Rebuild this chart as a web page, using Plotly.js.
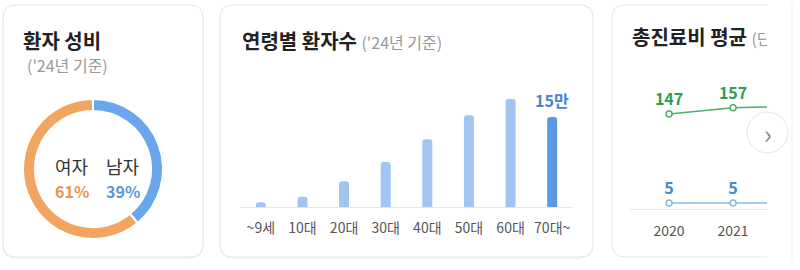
<!DOCTYPE html>
<html>
<head>
<meta charset="utf-8">
<script src="https://cdn.plot.ly/plotly-3.0.1.min.js"></script>
<style>
html,body{margin:0;padding:0;background:#fff;}
#chart{width:800px;height:270px;}
</style>
</head>
<body>
<div id="chart"></div>
<script>
// ---- data ----
const genderLabels = ['남자', '여자'];
const genderShares = [39, 61];

const ageGroups = ['~9세', '10대', '20대', '30대', '40대', '50대', '60대', '70대~'];
const agePatients = [0.8, 1.7, 4.3, 7.5, 11.3, 15.3, 18.0, 15.0]; // 만 명
const highlightIndex = 7;

const years = [2020, 2021, 2022];
const totalCost = [147, 157, 159];
const visitCost = [5, 5, 5];
const lastVisibleYear = 2021;

// ---- helpers (pixel -> paper) ----
const W = 800, H = 270;
const px = x => x / W;
const py = y => 1 - y / H;
const FONT = '"Noto Sans CJK KR", "Noto Sans", sans-serif';

function rr(x0, y0, x1, y1, r) {
  return `M ${px(x0 + r)},${py(y0)} L ${px(x1 - r)},${py(y0)} Q ${px(x1)},${py(y0)} ${px(x1)},${py(y0 + r)} ` +
    `L ${px(x1)},${py(y1 - r)} Q ${px(x1)},${py(y1)} ${px(x1 - r)},${py(y1)} ` +
    `L ${px(x0 + r)},${py(y1)} Q ${px(x0)},${py(y1)} ${px(x0)},${py(y1 - r)} ` +
    `L ${px(x0)},${py(y0 + r)} Q ${px(x0)},${py(y0)} ${px(x0 + r)},${py(y0)} Z`;
}
function openCard(x0, y0, x1, y1, r) {
  return `M ${px(x1)},${py(y0)} L ${px(x0 + r)},${py(y0)} Q ${px(x0)},${py(y0)} ${px(x0)},${py(y0 + r)} ` +
    `L ${px(x0)},${py(y1 - r)} Q ${px(x0)},${py(y1)} ${px(x0 + r)},${py(y1)} L ${px(x1)},${py(y1)}`;
}

const BLUE = '#69A6EC', ORANGE = '#F2A560';
const femaleIdx = genderLabels.indexOf('여자'), maleIdx = genderLabels.indexOf('남자');
const pointLabels = arr => arr.map((v, i) => years[i] <= lastVisibleYear ? String(v) : '');

const traces = [
  {
    type: 'pie',
    values: genderShares,
    labels: genderLabels,
    sort: false,
    direction: 'clockwise',
    rotation: 0,
    hole: 0.83,
    textinfo: 'none',
    marker: { colors: [BLUE, ORANGE], line: { color: '#fff', width: 2 } },
    domain: { x: [px(23), px(163)], y: [py(239), py(99)] },
    showlegend: false
  },
  {
    type: 'bar',
    x: ageGroups,
    y: agePatients,
    xaxis: 'x', yaxis: 'y',
    marker: {
      color: ageGroups.map((_, i) => i === highlightIndex ? '#5A99E6' : '#A2C4F0'),
      cornerradius: 3
    },
    showlegend: false
  },
  {
    type: 'scatter',
    mode: 'lines+markers+text',
    x: years, y: totalCost,
    xaxis: 'x2', yaxis: 'y2',
    text: pointLabels(totalCost),
    textposition: 'top center',
    textfont: { family: FONT, size: 16, color: '#2E9C55', weight: 700 },
    line: { color: '#4DAE6E', width: 1.5 },
    marker: { symbol: 'circle', size: 6, color: '#fff', line: { color: '#4DAE6E', width: 1.5 } },
    cliponaxis: true,
    showlegend: false
  },
  {
    type: 'scatter',
    mode: 'lines+markers+text',
    x: years, y: visitCost,
    xaxis: 'x2', yaxis: 'y2',
    text: pointLabels(visitCost),
    textposition: 'top center',
    textfont: { family: FONT, size: 16, color: '#3A8DCB', weight: 700 },
    line: { color: '#82BEDF', width: 1.5 },
    marker: { symbol: 'circle', size: 6, color: '#fff', line: { color: '#82BEDF', width: 1.5 } },
    cliponaxis: true,
    showlegend: false
  },
  {
    type: 'scatter',
    mode: 'text',
    x: [0], y: [0],
    xaxis: 'x3', yaxis: 'y3',
    text: ['<b>총진료비 평균</b> <span style="font-size:16px;color:#999">(단위: 만원)</span>'],
    textposition: 'middle right',
    textfont: { family: FONT, size: 20, color: '#222' },
    cliponaxis: true,
    showlegend: false
  }
];

const shapes = [
  { type: 'path', xref: 'paper', yref: 'paper', path: rr(3, 6, 203, 258, 13), line: { color: '#EDEEF0', width: 1 }, layer: 'below' },
  { type: 'path', xref: 'paper', yref: 'paper', path: rr(3, 5, 203, 257, 13), fillcolor: '#fff', line: { color: '#E4E6E9', width: 1 }, layer: 'below' },
  { type: 'path', xref: 'paper', yref: 'paper', path: rr(220, 6, 593, 258, 13), line: { color: '#EDEEF0', width: 1 }, layer: 'below' },
  { type: 'path', xref: 'paper', yref: 'paper', path: rr(220, 5, 593, 257, 13), fillcolor: '#fff', line: { color: '#E4E6E9', width: 1 }, layer: 'below' },
  { type: 'path', xref: 'paper', yref: 'paper', path: openCard(612, 5, 767, 257, 13), line: { color: '#E4E6E9', width: 1 }, layer: 'below' },
  { type: 'line', xref: 'paper', yref: 'paper', x0: px(792), x1: px(792), y0: py(4), y1: py(262), line: { color: '#EFEFEF', width: 1 }, layer: 'below' },
  { type: 'circle', xref: 'paper', yref: 'paper', x0: px(747), x1: px(788), y0: py(153), y1: py(112), fillcolor: '#fff', line: { color: '#E6E6E6', width: 1 }, layer: 'above' }
];

const ann = (x, y, text, size, color, extra) => Object.assign({
  xref: 'paper', yref: 'paper', x: px(x), y: py(y), text: text, showarrow: false,
  xanchor: 'left', yanchor: 'middle', font: { family: FONT, size: size, color: color }
}, extra || {});

const annotations = [
  ann(21, 40, '<b>환자 성비</b>', 20, '#222'),
  ann(25, 65, "('24년 기준)", 16, '#999'),
  ann(72, 166, genderLabels[femaleIdx], 18, '#333', { xanchor: 'center' }),
  ann(123, 166, genderLabels[maleIdx], 18, '#333', { xanchor: 'center' }),
  ann(72, 191, '<b>' + genderShares[femaleIdx] + '%</b>', 16, '#E9964D', { xanchor: 'center' }),
  ann(123, 191, '<b>' + genderShares[maleIdx] + '%</b>', 16, '#5B95DB', { xanchor: 'center' }),
  ann(240, 40, '<b>연령별 환자수</b> <span style="font-size:16px;color:#999">(\'24년 기준)</span>', 20, '#222'),
  {
    xref: 'x', yref: 'y', x: ageGroups[highlightIndex], y: agePatients[highlightIndex],
    text: '<b>' + agePatients[highlightIndex] + '만</b>', showarrow: false,
    yanchor: 'bottom', yshift: 3,
    font: { family: FONT, size: 16, color: '#4A84D0' }
  },
  ann(768, 132, '›', 26, '#888', { xanchor: 'center' })
];

const layout = {
  width: 800, height: 270,
  margin: { l: 0, r: 0, t: 0, b: 0 },
  paper_bgcolor: '#fff', plot_bgcolor: 'rgba(0,0,0,0)',
  font: { family: FONT },
  bargap: 0.76,
  xaxis: {
    domain: [px(240), px(573)],
    type: 'category',
    showline: true, linecolor: '#E3E8EE', linewidth: 1,
    showgrid: false, zeroline: false,
    ticks: 'outside', ticklen: 8, tickcolor: 'rgba(0,0,0,0)',
    tickfont: { family: FONT, size: 14, color: '#555' },
    fixedrange: true
  },
  yaxis: {
    domain: [py(207), py(87)],
    range: [0, 20],
    visible: false, fixedrange: true
  },
  xaxis2: {
    domain: [px(630), px(767)],
    range: [2019.39, 2021.53],
    anchor: 'y2',
    tickvals: years.filter(y => y <= lastVisibleYear),
    ticktext: years.filter(y => y <= lastVisibleYear).map(String),
    showline: true, linecolor: '#E6E6E6', linewidth: 1,
    showgrid: false, zeroline: false,
    ticks: 'outside', ticklen: 9, tickcolor: 'rgba(0,0,0,0)',
    tickfont: { family: FONT, size: 14, color: '#555' },
    fixedrange: true
  },
  yaxis2: {
    domain: [py(209), py(60)],
    range: [-4.6, 233],
    anchor: 'x2',
    visible: false, fixedrange: true
  },
  xaxis3: {
    domain: [px(612), px(767)], range: [-20, 135], anchor: 'y3',
    visible: false, fixedrange: true
  },
  yaxis3: {
    domain: [py(60), py(20)], range: [-20, 20], anchor: 'x3',
    visible: false, fixedrange: true
  },
  shapes: shapes,
  annotations: annotations,
  hovermode: false
};

Plotly.newPlot('chart', traces, layout, { displayModeBar: false, staticPlot: true });
</script>
</body>
</html>
